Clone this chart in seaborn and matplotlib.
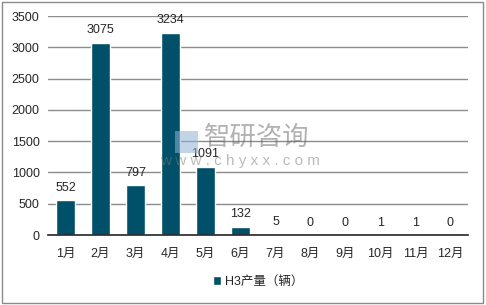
import matplotlib
matplotlib.use("Agg")
import matplotlib.pyplot as plt
import seaborn as sns
import pandas as pd
from matplotlib.patches import Rectangle

months = ["1月", "2月", "3月", "4月", "5月", "6月", "7月", "8月", "9月", "10月", "11月", "12月"]
values = [552, 3075, 797, 3234, 1091, 132, 5, 0, 0, 1, 1, 0]
series_name = "H3产量（辆）"
yticks = [0, 500, 1000, 1500, 2000, 2500, 3000, 3500]

sns.set_style("white")
plt.rcParams["font.family"] = ["Liberation Sans", "Noto Sans CJK SC", "DejaVu Sans"]

df = pd.DataFrame({"month": months, "value": values})
color = "#00506A"

fig = plt.figure(figsize=(4.86, 3.05), dpi=100)
ax = fig.add_axes([0.0988, 0.2295, 0.864, 0.718])
sns.barplot(data=df, x="month", y="value", color=color, width=0.52, ax=ax,
            saturation=1, label=series_name)

ax.set_ylim(0, 3500)
ax.set_yticks(yticks)
ax.set_xlim(-0.5, len(months) - 0.5)
ax.yaxis.grid(True, color="#8c8c8c", linewidth=1)
ax.set_axisbelow(True)
for s in ["left", "right", "top"]:
    ax.spines[s].set_visible(False)
ax.spines["bottom"].set_color("#262626")
ax.spines["bottom"].set_linewidth(1.2)
ax.tick_params(axis="both", length=0, labelsize=9, colors="#262626")
ax.tick_params(axis="x", pad=9)
ax.tick_params(axis="y", pad=6)
ax.set_xlabel("")
ax.set_ylabel("")

for i, v in enumerate(values):
    ax.text(i, v + 100, str(v), ha="center", va="bottom", fontsize=9, color="#262626")

# watermark
fig.text(0.529, 0.548, "智研咨询", fontsize=19, color="#666666", alpha=0.5,
         ha="center", va="center", family=["Noto Sans CJK SC"])
fig.text(0.494, 0.472, "w w w . c h y x x . c o m", fontsize=11, color="#777777", alpha=0.5,
         ha="center", va="center")
fig.patches.append(Rectangle((0.36, 0.50), 0.047, 0.072, transform=fig.transFigure,
                             facecolor="#8fb3d4", alpha=0.55, edgecolor="none"))

leg = ax.legend(loc="center", bbox_to_anchor=(0.5, -0.215), frameon=False, fontsize=9,
                handlelength=0.7, handleheight=0.7, handletextpad=0.3)

fig.patches.append(Rectangle((0.004, 0.007), 0.99, 0.986, transform=fig.transFigure,
                             fill=False, edgecolor="#8a8a8a", linewidth=1))

fig.savefig("out.png", dpi=100)
